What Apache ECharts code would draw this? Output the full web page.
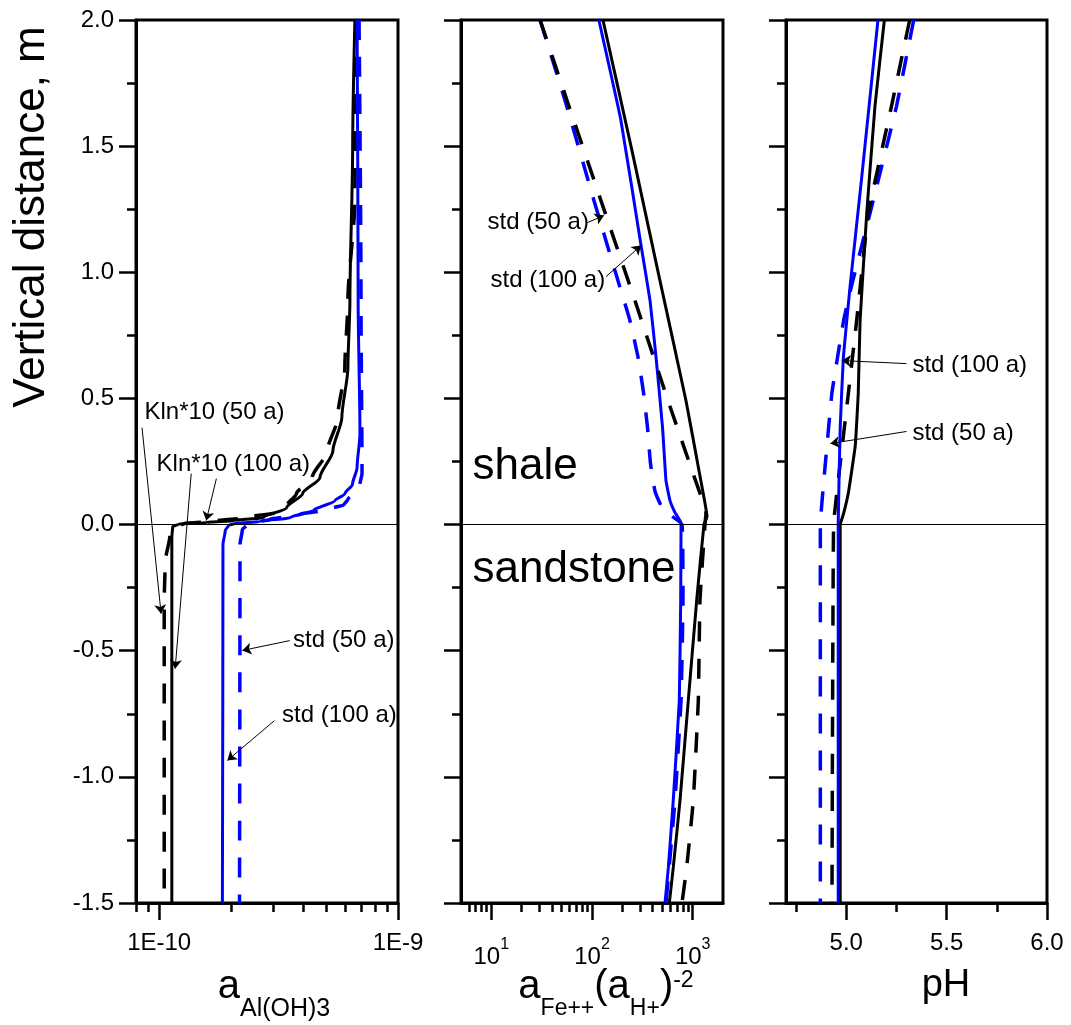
<!DOCTYPE html>
<html>
<head>
<meta charset="utf-8">
<script src="https://cdn.jsdelivr.net/npm/echarts@6/dist/echarts.min.js"></script>
<style>
  html, body { margin: 0; padding: 0; background: #fff; }
  #chart { width: 1071px; height: 1025px; }
</style>
</head>
<body>
<div id="chart"></div>
<script>
// ---- values (depth in m, positive = shale) ----
// panel 1: a Al(OH)3
const depthAlKln100 = [2.0, 1.5, 0.888, 0.622, 0.424, 0.293, 0.186, 0.123, 0.067, 0.028, 0.016, 0.008, 0.002, -0.008, -0.05, -1.5]
const alKln100 = [6.60e-10, 6.46e-10, 6.29e-10, 6.17e-10, 5.82e-10, 5.34e-10, 4.71e-10, 3.99e-10, 3.42e-10, 2.74e-10, 2.07e-10, 1.58e-10, 1.21e-10, 1.14e-10, 1.13e-10, 1.13e-10]
const depthAlKln50 = [2.0, 1.285, 0.888, 0.622, 0.424, 0.293, 0.186, 0.123, 0.075, 0.048, 0.028, 0.012, 0.004, -0.01, -0.04, -0.15, -0.3, -1.5]
const alKln50 = [6.74e-10, 6.60e-10, 6.17e-10, 5.99e-10, 5.59e-10, 5.07e-10, 4.37e-10, 3.76e-10, 3.42e-10, 3.10e-10, 2.32e-10, 1.62e-10, 1.27e-10, 1.17e-10, 1.11e-10, 1.06e-10, 1.05e-10, 1.05e-10]
const depthAlStd100 = [2.0, 0.888, 0.36, 0.226, 0.16, 0.123, 0.095, 0.056, 0.028, 0.012, 0.004, -0.004, -0.024, -0.08, -1.5]
const alStd100 = [6.74e-10, 6.81e-10, 6.93e-10, 6.74e-10, 6.45e-10, 6.0e-10, 5.45e-10, 4.43e-10, 3.55e-10, 2.63e-10, 2.07e-10, 1.95e-10, 1.89e-10, 1.85e-10, 1.84e-10]
const depthAlStd50 = [2.0, 0.888, 0.202, 0.16, 0.127, 0.10, 0.079, 0.06, 0.04, 0.02, 0.008, 0, -0.02, -0.08, -1.5]
const alStd50 = [6.87e-10, 7.00e-10, 7.07e-10, 6.93e-10, 6.56e-10, 6.17e-10, 5.95e-10, 5.09e-10, 3.88e-10, 2.90e-10, 2.51e-10, 2.34e-10, 2.23e-10, 2.18e-10, 2.17e-10]

// panel 2: a Fe++ (a H+)^-2
const depthFeKln100 = [2.0, 1.482, 0.967, 0.491, 0.214, 0.032, 0, -0.3, -0.698, -1.094, -1.36, -1.5]
const feKln100 = [128.5, 249.5, 473, 858, 1154, 1387, 1294, 1096, 904, 748, 641, 586]
const depthFeKln50 = [2.0, 1.681, 1.284, 0.888, 0.491, 0.214, 0.044, 0, -0.3, -0.698, -1.094, -1.36, -1.5]
const feKln50 = [30.5, 56.5, 122.8, 267, 569, 985, 1355, 1324, 1181, 1137, 1014, 871, 783]
const depthFeStd100 = [2.0, 1.601, 1.106, 0.888, 0.666, 0.384, 0.174, 0.095, 0.048, 0.016, 0, -0.3, -0.698, -1.094, -1.36, -1.5]
const feStd100 = [117, 194, 307, 377, 432, 502, 543, 595, 667, 748, 766, 760, 736, 641, 573, 531]
const depthFeStd50 = [2.0, 1.681, 1.284, 0.967, 0.809, 0.666, 0.523, 0.384, 0.242, 0.131, 0.059, 0, -0.3, -0.698, -1.094, -1.5]
const feStd50 = [30.5, 54, 104.7, 181, 238, 286, 325, 356, 381, 423, 508, 783, 801, 766, 667, 543]

// panel 3: pH
const depthPhStd100 = [2.0, 1.375, 0.951, 0.666, 0.385, 0, -1.5]
const phStd100 = [5.158, 5.077, 5.02, 4.986, 4.97, 4.96, 4.96]
const depthPhKln100 = [2.0, 1.657, 1.233, 0.809, 0.523, 0.313, 0.127, 0.044, 0, -1.5]
const phKln100 = [5.19, 5.143, 5.102, 5.069, 5.06, 5.045, 5.011, 4.987, 4.97, 4.97]
const depthPhStd50 = [2.0, 1.657, 1.233, 0.951, 0.809, 0.523, 0.242, 0, -1.5]
const phStd50 = [5.336, 5.25, 5.118, 5.028, 4.987, 4.929, 4.896, 4.871, 4.871]
const depthPhKln50 = [2.0, 1.657, 1.233, 0.809, 0.523, 0.242, 0, -1.5]
const phKln50 = [5.316, 5.225, 5.11, 5.052, 5.011, 4.97, 4.937, 4.929]

// axis ticks
const alMajor = [1e-10, 1e-9]
const alMinor = [8e-11, 9e-11, 2e-10, 3e-10, 4e-10, 5e-10, 6e-10, 7e-10, 8e-10, 9e-10]
const feMajor = [10, 100, 1000]
const feMinor = [6, 7, 8, 9, 20, 30, 40, 50, 60, 70, 80, 90, 200, 300, 400, 500, 600, 700, 800, 900]
const phMajor = [5.0, 5.5, 6.0]
const phMinor = [4.75, 5.25, 5.75]

// annotations: text, text anchor [x, depth], arrows [from, to]
const alNotes = ['Kln*10 (50 a)', 'Kln*10 (100 a)', 'std (50 a)', 'std (100 a)']
const alNotePos = [[8.64e-11, 0.444], [9.71e-11, 0.238], [3.62e-10, -0.46], [3.255e-10, -0.757]]
const alArrows = [
  [[8.48e-11, 0.384], [1.019e-10, -0.353]],
  [[1.736e-10, 0.182], [1.575e-10, 0.016]],
  [[1.362e-10, 0.202], [1.167e-10, -0.571]],
  [[3.52e-10, -0.46], [2.23e-10, -0.499]],
  [[3.04e-10, -0.777], [1.93e-10, -0.935]]
]
const feNotes = ['std (50 a)', 'std (100 a)']
const feNotePos = [[9.06, 1.197], [9.7, 0.967]]
const feArrows = [
  [[90.2, 1.197], [131.5, 1.225]],
  [[138, 0.983], [307, 1.106]]
]
const layerNotes = ['shale', 'sandstone']
const layerNotePos = [[6.43, 0.23], [6.43, -0.178]]
const phNotes = ['std (100 a)', 'std (50 a)']
const phNotePos = [[5.327, 0.63], [5.327, 0.361]]
const phArrows = [
  [[5.30, 0.638], [4.978, 0.65]],
  [[5.30, 0.369], [4.921, 0.321]]
]

const FONT = '"Liberation Sans", Arial, sans-serif'
const BLUE = '#0000ff'
const DASH = [20, 17]

const chart = echarts.init(document.getElementById('chart'))

const frames = [136, 461, 786].map((left, i) => ({
  left: left, top: 20, width: i === 2 ? 261 : 262, height: 883,
  show: true, borderColor: '#000', borderWidth: 3
}))

const yAxes = [0, 1, 2].map(i => ({
  type: 'value', gridIndex: i, min: -1.5, max: 2, interval: 0.5,
  axisLine: { show: true, onZero: false, lineStyle: { color: '#000', width: 3 } },
  axisTick: { show: true, length: 17, lineStyle: { color: '#000', width: 2.5 } },
  minorTick: { show: true, splitNumber: 2, length: 9, lineStyle: { color: '#000', width: 2.5 } },
  axisLabel: { show: i === 0, fontSize: 24, color: '#000', fontFamily: FONT, margin: 22, formatter: v => v.toFixed(1) },
  splitLine: { show: false }
}))

function xPair(i, type, min, max, majors, minors, label) {
  const base = { type: type, gridIndex: i, min: min, max: max, position: 'bottom', offset: 0, splitLine: { show: false } }
  return [
    Object.assign({}, base, {
      axisLine: { show: true, onZero: false, lineStyle: { color: '#000', width: 3 } },
      axisTick: { show: true, length: 17, customValues: majors, lineStyle: { color: '#000', width: 2.5 } },
      axisLabel: Object.assign({ show: true, customValues: majors, fontSize: 24, color: '#000', fontFamily: FONT, margin: 28 }, label)
    }),
    Object.assign({}, base, {
      axisLine: { show: false, onZero: false },
      axisTick: { show: true, length: 9, customValues: minors, lineStyle: { color: '#000', width: 2.5 } },
      axisLabel: { show: false }
    })
  ]
}

const xAxes = [].concat(
  xPair(0, 'log', 8e-11, 1e-9, alMajor, alMinor, { formatter: v => '1E' + Math.round(Math.log10(v)) }),
  xPair(1, 'log', 5, 2000, feMajor, feMinor, {
    margin: 34,
    formatter: v => '{b|10}{s|' + Math.round(Math.log10(v)) + '}',
    rich: {
      b: { fontSize: 24, fontFamily: FONT, color: '#000', verticalAlign: 'top', padding: [8, 0, 0, 0] },
      s: { fontSize: 16, fontFamily: FONT, color: '#000', verticalAlign: 'top' }
    }
  }),
  xPair(2, 'value', 4.7, 6.0, phMajor, phMinor, { formatter: v => v.toFixed(1) })
)

function curve(panel, depths, values, color, dashed, zeroLine) {
  const s = {
    type: 'line', xAxisIndex: panel * 2, yAxisIndex: panel,
    data: values.map((v, k) => [v, depths[k]]),
    showSymbol: false, symbol: 'none',
    smooth: panel === 0 ? 0.25 : 0.1,
    smoothMonotone: panel === 0 ? 'y' : null,
    lineStyle: { color: color, width: dashed ? 3.5 : 3, type: dashed ? DASH : 'solid', cap: 'butt' },
    silent: true
  }
  if (zeroLine) {
    s.markLine = {
      silent: true, symbol: 'none', animation: false, label: { show: false },
      lineStyle: { color: '#000', width: 1, type: 'solid' },
      data: [{ yAxis: 0 }]
    }
  }
  return s
}

function notes(panel, texts, pos, arrows, fontSize) {
  const labelStyle = { show: true, position: 'right', distance: 0, fontSize: fontSize, color: '#000', fontFamily: FONT, textBorderWidth: 0 }
  return {
    type: 'scatter', xAxisIndex: panel * 2, yAxisIndex: panel, symbolSize: 1, silent: true,
    itemStyle: { color: 'rgba(0,0,0,0)', opacity: 1 },
    data: texts.map((t, k) => ({ value: pos[k], label: Object.assign({ formatter: t }, labelStyle) })),
    label: labelStyle,
    markLine: {
      silent: true, animation: false, symbol: ['none', 'arrow'], symbolSize: 9, label: { show: false },
      lineStyle: { color: '#000', width: 1, type: 'solid', opacity: 1 },
      data: arrows.map(a => [{ coord: a[0] }, { coord: a[1] }])
    }
  }
}

const series = [
  curve(0, depthAlKln100, alKln100, '#000', false, true),
  curve(0, depthAlKln50, alKln50, '#000', true),
  curve(0, depthAlStd100, alStd100, BLUE, false),
  curve(0, depthAlStd50, alStd50, BLUE, true),
  curve(1, depthFeStd50, feStd50, BLUE, true, true),
  curve(1, depthFeStd100, feStd100, BLUE, false),
  curve(1, depthFeKln100, feKln100, '#000', false),
  curve(1, depthFeKln50, feKln50, '#000', true),
  curve(2, depthPhStd50, phStd50, BLUE, true, true),
  curve(2, depthPhKln50, phKln50, '#000', true),
  curve(2, depthPhKln100, phKln100, '#000', false),
  curve(2, depthPhStd100, phStd100, BLUE, false),
  notes(0, alNotes, alNotePos, alArrows, 24),
  notes(1, feNotes, feNotePos, feArrows, 24),
  notes(1, layerNotes, layerNotePos, [], 44),
  notes(2, phNotes, phNotePos, phArrows, 24)
]

function titleRich(sub) {
  return {
    a: { fontSize: 40, fontFamily: FONT, fill: '#000', color: '#000', verticalAlign: 'top' },
    s: { fontSize: sub, fontFamily: FONT, fill: '#000', color: '#000', verticalAlign: 'top', padding: [30, 0, 0, 0] },
    u: { fontSize: sub, fontFamily: FONT, fill: '#000', color: '#000', verticalAlign: 'top', padding: [2, 0, 0, 0] },
    p: { fontSize: 38, fontFamily: FONT, fill: '#000', color: '#000', verticalAlign: 'top' }
  }
}

function title(x, text, sub) {
  return {
    type: 'text', x: x, y: 967, silent: true,
    style: { text: text, rich: titleRich(sub), align: 'center', verticalAlign: 'top', textAlign: 'center', textVerticalAlign: 'top', fill: '#000' }
  }
}

chart.setOption({
  animation: false,
  backgroundColor: '#fff',
  grid: frames,
  xAxis: xAxes,
  yAxis: yAxes,
  series: series,
  graphic: [
    {
      type: 'text', x: 32, y: 217, rotation: Math.PI / 2, silent: true,
      style: {
        text: 'Vertical distance, m', fontSize: 44, fontFamily: FONT, fill: '#000',
        align: 'center', verticalAlign: 'middle', textAlign: 'center', textVerticalAlign: 'middle'
      }
    },
    title(274, '{a|a}{s|Al(OH)3}', 25),
    title(606, '{a|a}{s|Fe++}{a|(a}{s|H+}{a|)}{u|-2}', 23),
    title(946, '{p|pH}', 23)
  ]
})
</script>
</body>
</html>
